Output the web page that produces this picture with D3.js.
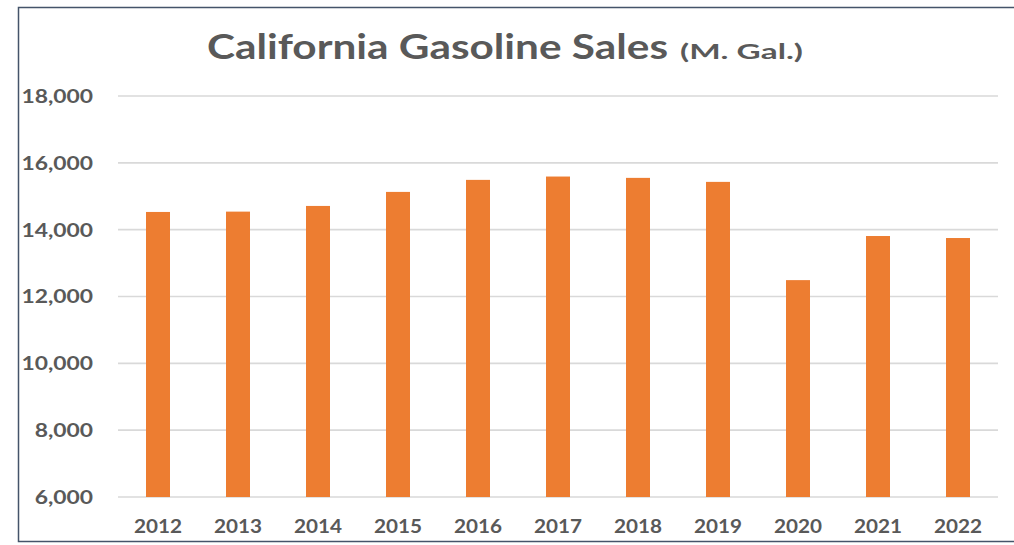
<!DOCTYPE html>
<html>
<head>
<meta charset="utf-8">
<script src="https://cdn.jsdelivr.net/npm/d3@7"></script>
<style>
  html, body { margin: 0; padding: 0; background: #ffffff; }
  svg { display: block; }
</style>
</head>
<body>
<svg id="chart" width="1014" height="545"></svg>
<script>
// California gasoline sales, millions of gallons
const years = ["2012","2013","2014","2015","2016","2017","2018","2019","2020","2021","2022"];
const sales = [14530, 14540, 14710, 15130, 15490, 15590, 15550, 15430, 12490, 13810, 13750];
const yTicks = [6000, 8000, 10000, 12000, 14000, 16000, 18000];

const svg = d3.select("#chart");
const W = 1014;
const plot = { left: 118, right: 998, top: 96, bottom: 497 };
const font = "Lato, 'Open Sans', sans-serif";
const grey = "#595959";

// outer frame
svg.append("rect")
  .attr("x", 18.5).attr("y", 7.5)
  .attr("width", W + 20).attr("height", 534)
  .attr("fill", "#ffffff")
  .attr("stroke", "#44546a").attr("stroke-width", 1.5);

const x = d3.scaleBand()
  .domain(years)
  .range([plot.left, plot.right])
  .paddingInner(0.7)
  .paddingOuter(0.35);

const y = d3.scaleLinear()
  .domain([6000, 18000])
  .range([plot.bottom, plot.top]);

// gridlines
svg.append("g")
  .selectAll("line")
  .data(yTicks)
  .join("line")
  .attr("x1", plot.left).attr("x2", plot.right)
  .attr("y1", d => y(d)).attr("y2", d => y(d))
  .attr("stroke", "#d9d9d9").attr("stroke-width", 1.6);

// y axis labels (wide, bold)
const yAxis = d3.axisLeft(y)
  .tickValues(yTicks)
  .tickFormat(d3.format(","))
  .tickSize(0)
  .tickPadding(0);
svg.append("g")
  .attr("transform", "translate(93,0)")
  .call(yAxis)
  .call(g => g.select(".domain").remove())
  .selectAll("text")
  .attr("font-family", font)
  .attr("font-weight", "bold")
  .attr("font-size", 18)
  .attr("fill", grey)
  .attr("x", 0)
  .attr("dy", "0.36em")
  .attr("transform", "scale(1.27,1)");

// bars
svg.append("g")
  .selectAll("rect")
  .data(years.map((yr, i) => ({ yr, v: sales[i] })))
  .join("rect")
  .attr("x", d => x(d.yr))
  .attr("width", x.bandwidth())
  .attr("y", d => y(d.v))
  .attr("height", d => y(6000) - y(d.v))
  .attr("fill", "#ed7d31");

// x axis labels
const xAxis = d3.axisBottom(x).tickSize(0).tickPadding(0);
svg.append("g")
  .attr("transform", "translate(0,533)")
  .call(xAxis)
  .call(g => g.select(".domain").remove())
  .selectAll("text")
  .attr("font-family", font)
  .attr("font-weight", "bold")
  .attr("font-size", 18)
  .attr("fill", grey)
  .attr("y", 0)
  .attr("dy", 0)
  .attr("transform", "scale(1.15,1)");

// title
svg.append("text")
  .attr("x", 207).attr("y", 59)
  .attr("font-family", font)
  .attr("font-weight", "bold")
  .attr("font-size", 35)
  .attr("fill", grey)
  .attr("textLength", 461)
  .attr("lengthAdjust", "spacingAndGlyphs")
  .text("California Gasoline Sales");
svg.append("text")
  .attr("x", 680).attr("y", 59)
  .attr("font-family", font)
  .attr("font-weight", "bold")
  .attr("font-size", 21)
  .attr("fill", grey)
  .attr("textLength", 123)
  .attr("lengthAdjust", "spacingAndGlyphs")
  .text("(M. Gal.)");
</script>
</body>
</html>
